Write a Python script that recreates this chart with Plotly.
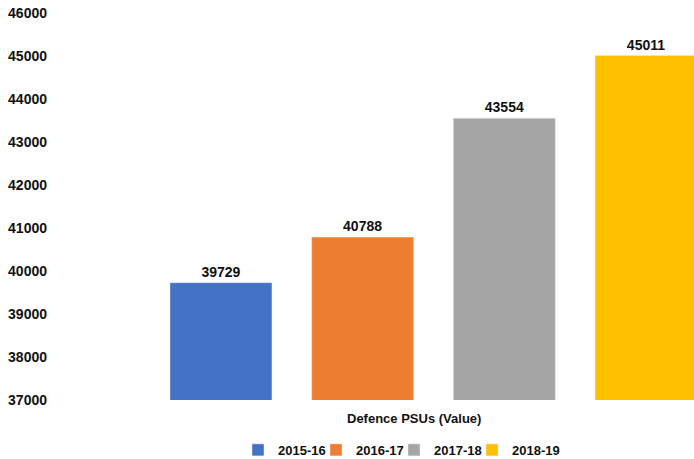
import plotly.graph_objects as go

categories = ["Defence PSUs (Value)"]
series_names = ["2015-16", "2016-17", "2017-18", "2018-19"]
series_values = [39729, 40788, 43554, 45011]
colors = ["#4472C4", "#ED7D31", "#A5A5A5", "#FFC000"]
y_ticks = [37000, 38000, 39000, 40000, 41000, 42000, 43000, 44000, 45000, 46000]

FONT = "Liberation Sans, Arial, sans-serif"

fig = go.Figure()
for name, val, col in zip(series_names, series_values, colors):
    fig.add_trace(go.Bar(
        x=categories, y=[val], name=name, marker_color=col,
        text=[str(val)], textposition="outside", cliponaxis=False,
        textfont=dict(family=FONT, size=14, color="#111111", weight="bold"),
    ))
# empty spacer entry so the last legend label is not clipped
fig.add_trace(go.Scatter(x=[None], y=[None], mode="markers", name=" ",
                         marker=dict(color="rgba(0,0,0,0)", size=1,
                                     line=dict(width=0)),
                         hoverinfo="skip"))

W, H = 694, 459
L, R, T, B = 55, 0, 12.5, H - 400
plot_w = W - L - R
plot_h = H - T - B
center_px = 433.5
unit_px = 708.4
x_range = [(L - center_px) / unit_px, (W - R - center_px) / unit_px]

fig.update_layout(
    width=W, height=H,
    margin=dict(l=L, r=R, t=T, b=B, autoexpand=False),
    paper_bgcolor="white", plot_bgcolor="white",
    barmode="group", bargap=0.2, bargroupgap=0.28,
    showlegend=True,
    legend=dict(orientation="h", x=(238 - L) / plot_w, xanchor="left",
                y=-(450 - 400) / plot_h, yanchor="middle",
                font=dict(family=FONT, size=13, color="#111111", weight="bold"),
                itemwidth=30, tracegroupgap=0,
                entrywidth=33, entrywidthmode="pixels"),
    xaxis=dict(range=x_range, showticklabels=False, showgrid=False,
               zeroline=False, showline=False, ticks="", automargin=False),
    yaxis=dict(range=[37000, 46000], tickvals=y_ticks,
               ticktext=[str(v) for v in y_ticks], automargin=False,
               showgrid=False, zeroline=False, showline=False, ticks="",
               ticklabelstandoff=7, ticklabeloverflow="allow",
               tickfont=dict(family=FONT, size=14, color="#111111", weight="bold")),
    annotations=[dict(text=categories[0], xref="paper", yref="paper",
                      x=(414 - L) / plot_w, y=-(419 - 400) / plot_h,
                      xanchor="center", yanchor="middle",
                      showarrow=False,
                      font=dict(family=FONT, size=13, color="#111111", weight="bold"))],
)

# remove the default 8px page margin so the figure fills the window exactly
fig.write_html("out.html", config={"displayModeBar": False},
               post_script="document.body.style.margin='0';")
